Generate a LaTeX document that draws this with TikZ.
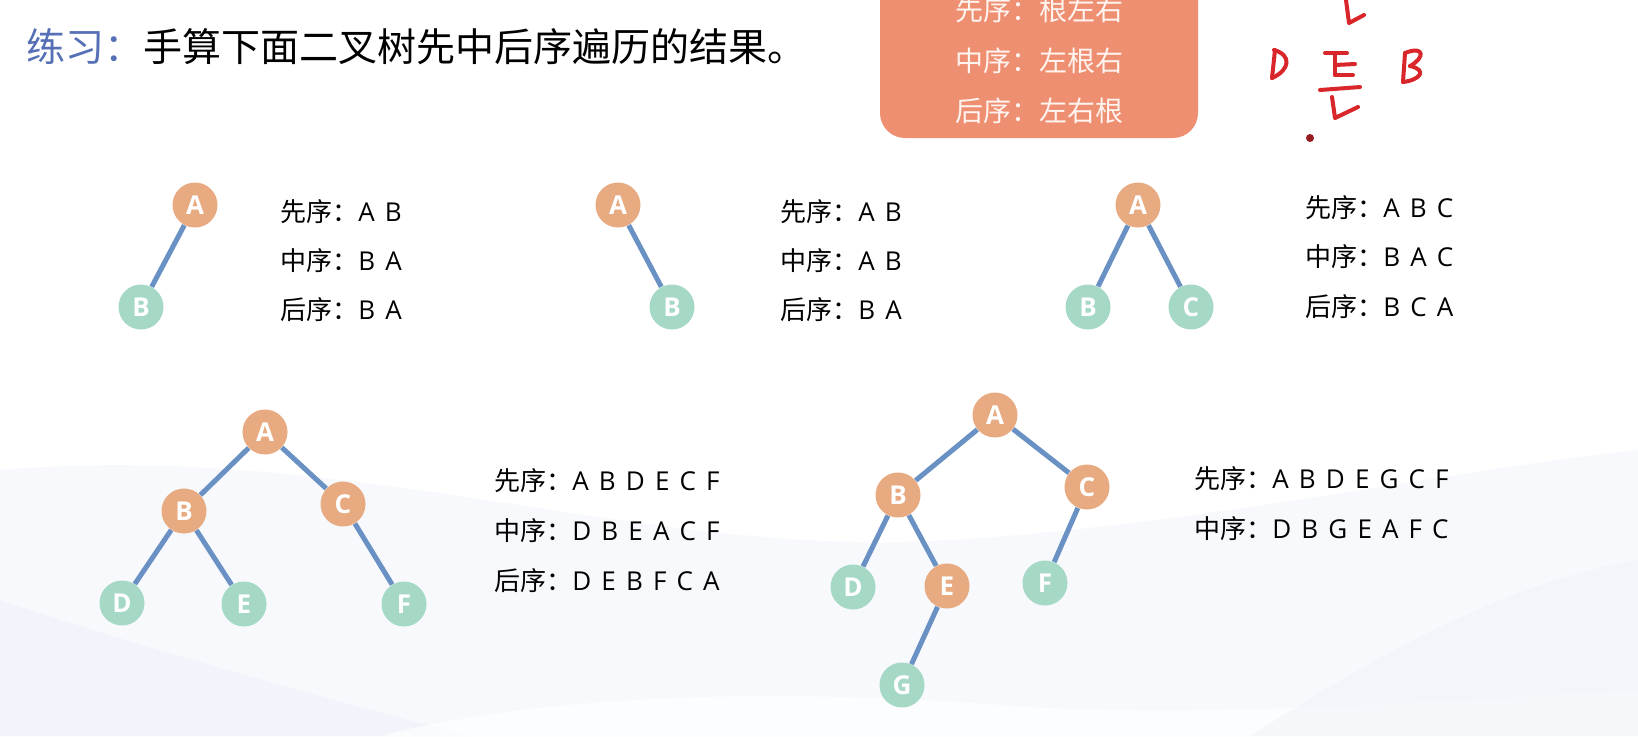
\documentclass[tikz,border=0pt]{standalone}
\usepackage{fontspec}
\newfontfamily\cjk{Noto Sans CJK SC}
\newfontfamily\lat{Open Sans}[WordSpace=1.5]
\definecolor{nodeor}{HTML}{E8AA80}
\definecolor{nodegr}{HTML}{A6D8C6}
\definecolor{edgeblue}{HTML}{6A91C4}
\definecolor{titleblue}{HTML}{5670B6}
\definecolor{boxor}{HTML}{EE8F72}
\definecolor{boxtext}{HTML}{FFF4EF}
\definecolor{inkred}{HTML}{D8262A}
\definecolor{bgwave}{HTML}{E9EEF8}
\tikzset{
  tn/.style={circle, minimum size=22.5pt, inner sep=0pt, text=white,
    font=\lat\bfseries\fontsize{13}{13}\selectfont},
  orn/.style={tn, fill=nodeor},
  grn/.style={tn, fill=nodegr},
  edge/.style={draw=edgeblue, line width=2.5pt},
  seq/.style={anchor=west, inner sep=0pt, text=black,
    font=\fontsize{13}{13}\selectfont},
  boxline/.style={inner sep=0pt, text=boxtext, font=\cjk\fontsize{14}{14}\selectfont},
  ink/.style={draw=inkred, line width=2pt, line cap=round, line join=round}
}
\begin{document}
\begin{tikzpicture}[x=0.5pt,y=-0.5pt]
\useasboundingbox (0,0) rectangle (1638,736);
% background
\fill[white] (0,0) rectangle (1638,736);
\fill[bgwave, opacity=0.35] (0,470) .. controls (350,440) and (650,560) .. (950,540)
   .. controls (1200,525) and (1450,470) .. (1638,450) -- (1638,736) -- (0,736) -- cycle;
\fill[bgwave, opacity=0.4] (0,600) .. controls (150,650) and (330,700) .. (470,736) -- (0,736) -- cycle;
\fill[white, opacity=0.7] (380,736) .. controls (560,690) and (800,690) .. (1000,705)
   .. controls (1200,720) and (1450,700) .. (1638,690) -- (1638,736) -- cycle;
\fill[bgwave, opacity=0.35] (1250,736) .. controls (1400,640) and (1520,580) .. (1638,560) -- (1638,736) -- cycle;

% title
\node[anchor=west, inner sep=0pt, font=\cjk\fontsize{19.5}{19.5}\selectfont] (title) at (26,47)
  {{\color{titleblue}练习：}手算下面二叉树先中后序遍历的结果。};

% orange box
\fill[boxor, rounded corners=12.5pt] (880,-40) rectangle (1198,138);
\node[boxline] (bx1) at (1039,10) {先序：根左右};
\node[boxline] (bx2) at (1039,61) {中序：左根右};
\node[boxline] (bx3) at (1039,111) {后序：左右根};

% handwriting
\draw[ink] (1346,0) -- (1349,23) -- (1364,15);
\draw[ink] (1275,50) -- (1272,78);
\draw[ink] (1274,50) .. controls (1292,55) and (1290,70) .. (1272,78);
\draw[ink] (1325,53) -- (1347,53);
\draw[ink] (1335,53) -- (1335,75);
\draw[ink] (1335,65) -- (1355,64);
\draw[ink] (1335,75) -- (1353,75);
\draw[ink] (1320,90) -- (1360,87);
\draw[ink] (1332,97) -- (1335,118) -- (1358,107);
\draw[ink] (1405,53) -- (1403,82);
\draw[ink] (1405,53) .. controls (1425,45) and (1425,58) .. (1410,66);
\draw[ink] (1410,66) .. controls (1428,70) and (1420,80) .. (1403,82);
\fill[inkred!70!black] (1310,138) circle (2pt);

% tree 1
\node[orn] (t1A) at (195,205) {A};
\node[grn] (t1B) at (141,307) {B};
\draw[edge] (t1A) -- (t1B);
\node[seq] (s1a) at (280,212) {\cjk 先序：\lat A B};
\node[seq] (s1b) at (280,261) {\cjk 中序：\lat B A};
\node[seq] (s1c) at (280,310) {\cjk 后序：\lat B A};

% tree 2
\node[orn] (t2A) at (618,205) {A};
\node[grn] (t2B) at (672,307) {B};
\draw[edge] (t2A) -- (t2B);
\node[seq] (s2a) at (780,212) {\cjk 先序：\lat A B};
\node[seq] (s2b) at (780,261) {\cjk 中序：\lat A B};
\node[seq] (s2c) at (780,310) {\cjk 后序：\lat B A};

% tree 3
\node[orn] (t3A) at (1138,205) {A};
\node[grn] (t3B) at (1088,307) {B};
\node[grn] (t3C) at (1191,307) {C};
\draw[edge] (t3A) -- (t3B);
\draw[edge] (t3A) -- (t3C);
\node[seq] (s3a) at (1305,208) {\cjk 先序：\lat A B C};
\node[seq] (s3b) at (1305,257) {\cjk 中序：\lat B A C};
\node[seq] (s3c) at (1305,307) {\cjk 后序：\lat B C A};

% tree 4
\node[orn] (t4A) at (265,432) {A};
\node[orn] (t4B) at (184,511) {B};
\node[orn] (t4C) at (343,504) {C};
\node[grn] (t4D) at (122,603) {D};
\node[grn] (t4E) at (244,604) {E};
\node[grn] (t4F) at (404,604) {F};
\draw[edge] (t4A) -- (t4B);
\draw[edge] (t4A) -- (t4C);
\draw[edge] (t4B) -- (t4D);
\draw[edge] (t4B) -- (t4E);
\draw[edge] (t4C) -- (t4F);
\node[seq] (s4a) at (494,481) {\cjk 先序：\lat A B D E C F};
\node[seq] (s4b) at (494,531) {\cjk 中序：\lat D B E A C F};
\node[seq] (s4c) at (494,581) {\cjk 后序：\lat D E B F C A};

% tree 5
\node[orn] (t5A) at (995,415) {A};
\node[orn] (t5B) at (898,495) {B};
\node[orn] (t5C) at (1087,487) {C};
\node[grn] (t5D) at (853,587) {D};
\node[orn] (t5E) at (947,586) {E};
\node[grn] (t5F) at (1045,583) {F};
\node[grn] (t5G) at (902,685) {G};
\draw[edge] (t5A) -- (t5B);
\draw[edge] (t5A) -- (t5C);
\draw[edge] (t5B) -- (t5D);
\draw[edge] (t5B) -- (t5E);
\draw[edge] (t5C) -- (t5F);
\draw[edge] (t5E) -- (t5G);
\node[seq] (s5a) at (1194,479) {\cjk 先序：\lat A B D E G C F};
\node[seq] (s5b) at (1194,529) {\cjk 中序：\lat D B G E A F C};
\end{tikzpicture}
\end{document}
